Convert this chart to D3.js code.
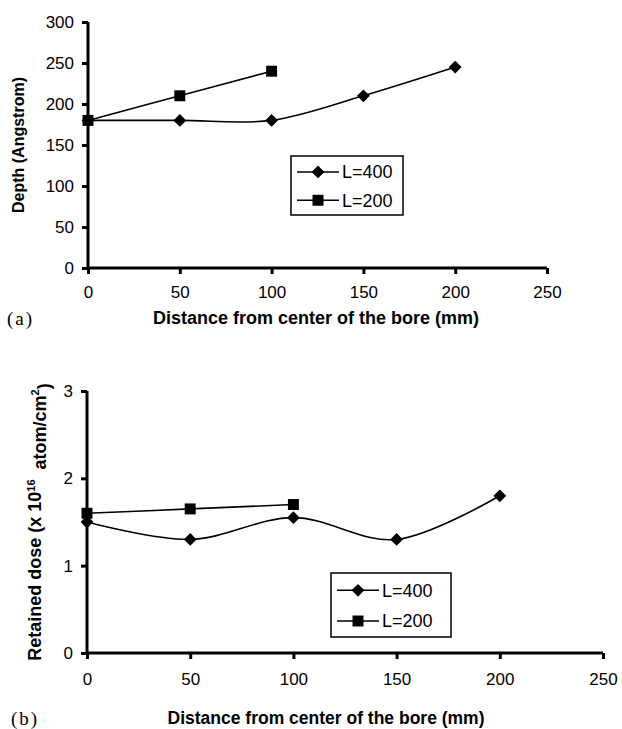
<!DOCTYPE html>
<html>
<head>
<meta charset="utf-8">
<script src="https://cdn.jsdelivr.net/npm/d3@7"></script>
<style>
  body { margin: 0; background: #fff; }
  svg { display: block; }
</style>
</head>
<body>
<div id="chart"></div>
<script>
// data
const distanceL400 = [0, 50, 100, 150, 200];
const distanceL200 = [0, 50, 100];
const depthL400 = [180, 180, 180, 210, 245];
const depthL200 = [180, 210, 240];
const doseL400 = [1.5, 1.3, 1.55, 1.3, 1.8];
const doseL200 = [1.6, 1.65, 1.7];
const xTicks = [0, 50, 100, 150, 200, 250];
const depthTicks = [0, 50, 100, 150, 200, 250, 300];
const doseTicks = [0, 1, 2, 3];
const seriesNames = ['L=400', 'L=200'];
const xTitle = 'Distance from center of the bore (mm)';

const W = 622, H = 729;
const SANS = '"Liberation Sans", Arial, sans-serif';
const SERIF = '"Liberation Serif", "Times New Roman", serif';

const svg = d3.select('#chart').append('svg')
  .attr('width', W).attr('height', H);

const diamond = d3.symbol().type(d3.symbolSquare).size(82)();
const square = d3.symbol().type(d3.symbolSquare).size(120)();

function drawMarker(g, kind, x, y) {
  if (kind === 'diamond') {
    g.append('path').attr('d', diamond)
      .attr('transform', `translate(${x},${y}) rotate(45)`)
      .attr('fill', '#000');
  } else {
    g.append('path').attr('d', square)
      .attr('transform', `translate(${x},${y})`)
      .attr('fill', '#000');
  }
}

function drawPanel(p) {
  const g = svg.append('g');
  const x = d3.scaleLinear().domain([0, 250]).range([p.left, p.right]);
  const y = d3.scaleLinear().domain(p.yDomain).range([p.bottom, p.top]);

  // axes
  const xAxis = g.append('g')
    .attr('transform', `translate(0,${p.bottom})`)
    .call(d3.axisBottom(x).tickValues(xTicks).tickSize(6).tickPadding(p.xPad).tickFormat(d3.format('d')));
  const yAxis = g.append('g')
    .attr('transform', `translate(${p.left},0)`)
    .call(d3.axisLeft(y).tickValues(p.yTicks).tickSize(6).tickPadding(8).tickFormat(d3.format('d')));
  [xAxis, yAxis].forEach(a => {
    a.select('.domain').attr('stroke', '#000').attr('stroke-width', 3)
      .attr('d', a === xAxis ? `M${p.left},0H${p.right}` : `M0,${p.bottom}V${p.top}`);
    a.selectAll('.tick line').attr('stroke', '#000').attr('stroke-width', 3);
    a.selectAll('.tick text').attr('fill', '#000')
      .style('font-family', SANS).style('font-size', '17px');
  });

  // series lines (smoothed like the original)
  const line = d3.line().curve(d3.curveCatmullRom.alpha(0))
    .x(d => x(d[0])).y(d => y(d[1]));
  p.series.forEach(s => {
    const pts = d3.zip(s.xs, s.ys);
    g.append('path').datum(pts).attr('d', line)
      .attr('fill', 'none').attr('stroke', '#000').attr('stroke-width', 1.6);
    pts.forEach(d => drawMarker(g, s.marker, x(d[0]), y(d[1])));
  });

  // legend
  const lg = g.append('g').attr('transform', `translate(${p.legend.x},${p.legend.y})`);
  lg.append('rect').attr('width', p.legend.w).attr('height', p.legend.h)
    .attr('fill', '#fff').attr('stroke', '#000').attr('stroke-width', 1.5);
  p.series.forEach((s, i) => {
    const ly = p.legend.h * (0.27 + 0.48 * i);
    lg.append('line').attr('x1', 6).attr('x2', 48).attr('y1', ly).attr('y2', ly)
      .attr('stroke', '#000').attr('stroke-width', 1.6);
    drawMarker(lg, s.marker, 27, ly);
    lg.append('text').attr('x', 51).attr('y', ly).attr('dy', '0.36em')
      .style('font-family', SANS).style('font-size', '18px').text(seriesNames[i]);
  });

  // x title
  g.append('text').attr('x', p.xTitleX).attr('y', p.xTitleY).attr('dy', '0.35em')
    .attr('text-anchor', 'middle')
    .style('font-family', SANS).style('font-size', p.xTitleSize).style('font-weight', 'bold')
    .text(xTitle);

  // panel tag
  g.append('text').attr('x', p.tagX).attr('y', p.xTitleY).attr('dy', '0.35em')
    .style('font-family', SERIF).style('font-size', '19px').style('letter-spacing', '2px')
    .text(p.tag);

  // y title
  const yt = g.append('text')
    .attr('transform', `translate(${p.yTitleX},${(p.top + p.bottom) / 2}) rotate(-90)`)
    .attr('text-anchor', 'middle').attr('dy', '0.35em')
    .style('font-family', SANS).style('font-weight', 'bold');
  p.yTitle(yt);
}

drawPanel({
  left: 88, right: 547, top: 22, bottom: 268,
  yDomain: [0, 300], yTicks: depthTicks, xPad: 12,
  series: [
    { xs: distanceL400, ys: depthL400, marker: 'diamond' },
    { xs: distanceL200, ys: depthL200, marker: 'square' }
  ],
  legend: { x: 291, y: 156, w: 112, h: 59 },
  xTitleX: 316, xTitleY: 318, xTitleSize: '18px', tagX: 7, tag: '(a)',
  yTitleX: 18,
  yTitle: t => t.style('font-size', '16px').text('Depth (Angstrom)')
});

drawPanel({
  left: 87, right: 603, top: 391, bottom: 653,
  yDomain: [0, 3], yTicks: doseTicks, xPad: 14,
  series: [
    { xs: distanceL400, ys: doseL400, marker: 'diamond' },
    { xs: distanceL200, ys: doseL200, marker: 'square' }
  ],
  legend: { x: 331, y: 573, w: 120, h: 64 },
  xTitleX: 326, xTitleY: 718, xTitleSize: '17.5px', tagX: 11, tag: '(b)',
  yTitleX: 35,
  yTitle: t => {
    t.style('font-size', '18px');
    t.append('tspan').text('Retained dose (x 10');
    t.append('tspan').attr('dy', '-0.6em').style('font-size', '11px').text('16');
    t.append('tspan').attr('dy', '0.6em').text('\u00a0 atom/cm');
    t.append('tspan').attr('dy', '-0.6em').style('font-size', '11px').text('2');
    t.append('tspan').attr('dy', '0.6em').text(')');
  }
});
</script>
</body>
</html>
